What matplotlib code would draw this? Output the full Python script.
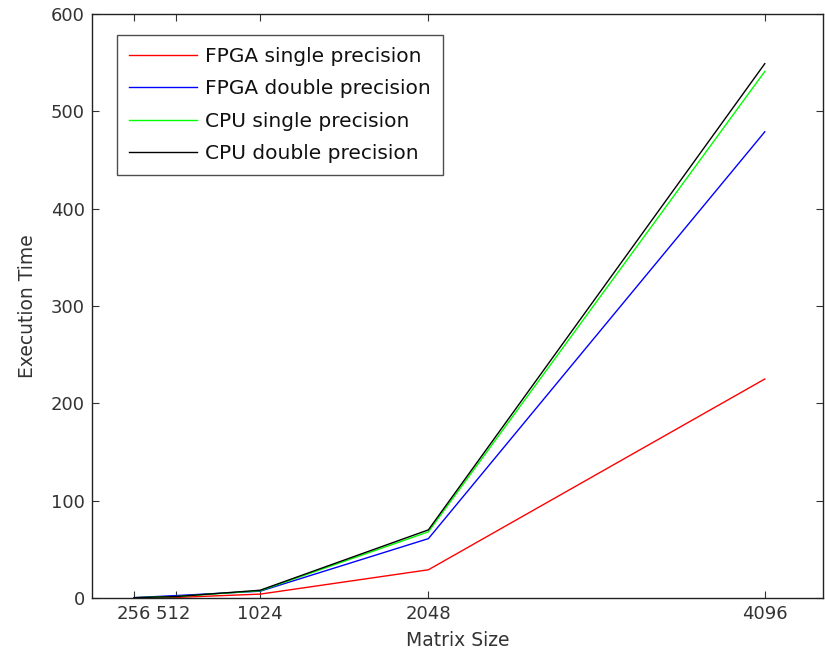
import matplotlib.pyplot as plt

# matrix sizes and execution times
sizes = [256, 512, 1024, 2048, 4096]
fpga_single = [0.2, 0.6, 4, 29, 225]
fpga_double = [0.4, 2.5, 7, 61, 479]
cpu_single = [0.3, 1.5, 7.5, 68, 541]
cpu_double = [0.3, 1.5, 8, 70, 549]

labels = ['FPGA single precision', 'FPGA double precision',
          'CPU single precision', 'CPU double precision']
colors = ['#ff0000', '#0000ff', '#00ff00', '#000000']

plt.rcParams['font.family'] = ['DejaVu Sans']

fig = plt.figure(figsize=(8.25, 6.61), dpi=100)
ax = fig.add_axes([0.1115, 0.0953, 0.886, 0.8835])

for ys, lab, c in zip([fpga_single, fpga_double, cpu_single, cpu_double], labels, colors):
    ax.plot(sizes, ys, color=c, linewidth=1.0, label=lab)

ax.set_xlim(0, 4450)
ax.set_ylim(0, 600)
ax.set_xticks(sizes)
ax.set_xticklabels(['256', '512 ', '1024', '2048', '4096'])
ax.set_yticks(range(0, 601, 100))
ax.tick_params(direction='in', length=5, labelsize=13, colors='#333333',
               top=True, right=True, labeltop=False, labelright=False, pad=5)
for sp in ax.spines.values():
    sp.set_linewidth(1.0)
    sp.set_color('#222222')

ax.set_xlabel('Matrix Size', fontsize=13.5, color='#333333', labelpad=6)
ax.set_ylabel('Execution Time', fontsize=13.5, color='#333333', labelpad=10)

leg = ax.legend(loc='upper left', bbox_to_anchor=(0.034, 0.964), fontsize=14.5,
                frameon=True, fancybox=False, edgecolor='#222222',
                handlelength=3.4, handletextpad=0.4, borderaxespad=0,
                borderpad=0.6, labelspacing=0.66)
leg.get_frame().set_linewidth(1.0)
for t in leg.get_texts():
    t.set_color('#111111')

fig.savefig('out.png', dpi=100)
